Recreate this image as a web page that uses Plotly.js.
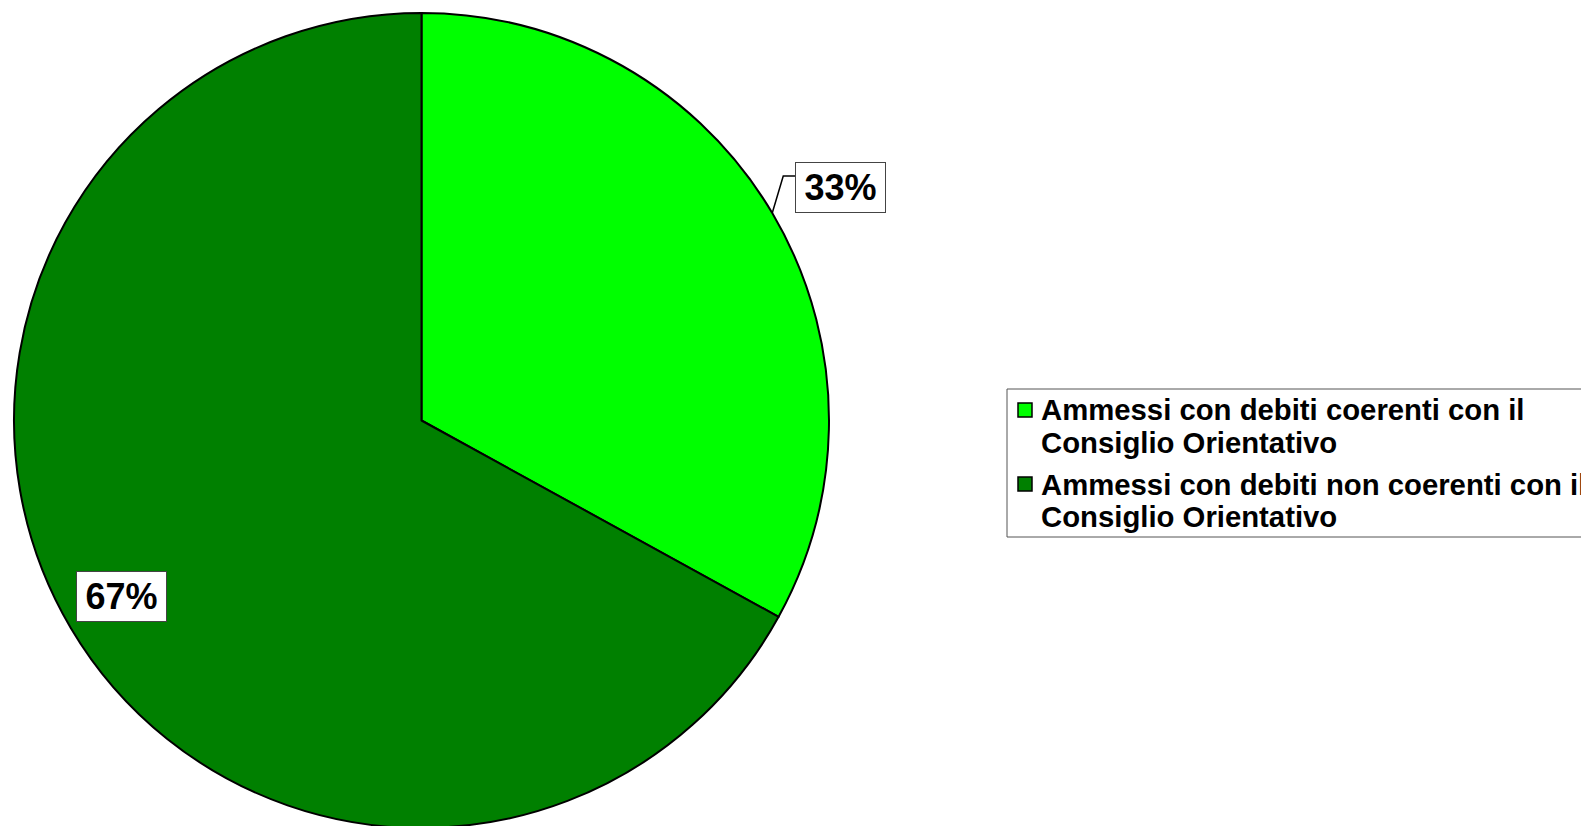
<!DOCTYPE html>
<html>
<head>
<meta charset="utf-8">
<script src="https://cdn.plot.ly/plotly-3.0.1.min.js"></script>
<style>
html,body{margin:0;padding:0;overflow:hidden;background:#fff;}
#chart{width:1581px;height:830px;}
</style>
</head>
<body>
<div id="chart"></div>
<script>
// ---- data ----
const labels = [
  "Ammessi con debiti coerenti con il<br>Consiglio Orientativo",
  "Ammessi con debiti non coerenti con il<br>Consiglio Orientativo"
];
const values = [33, 67];
const colors = ["#00FF00", "#008000"];

// ---- layout geometry (pixels) ----
const W = 1581, H = 830;
const cx = 421.5, cy = 420.5, R = 407.5;
const FONT = "Liberation Sans, Arial, Helvetica, sans-serif";

const px2x = p => p / W;
const py2y = p => 1 - p / H;

// mid-angles of slices (clockwise from 12 o'clock), computed from data
const total = values.reduce((a, b) => a + b, 0);
let cum = 0;
const mids = values.map(v => { const m = (cum + v / 2) / total * 2 * Math.PI; cum += v; return m; });
const pct = values.map(v => Math.round(v / total * 100) + "%");

const pt = (ang, r) => [cx + r * Math.sin(ang), cy - r * Math.cos(ang)];

// label 1 : outside with elbow leader
const E = pt(mids[0], R);
const elbow = [E[0] + 11, E[1] - 37];
const boxW = 91, boxH = 51;
const boxL = elbow[0] + 12, boxT = elbow[1] - 14;

// label 2 : inside
const L2 = pt(mids[1], 0.855 * R);

const trace = {
  type: "pie",
  labels: labels,
  values: values,
  sort: false,
  direction: "clockwise",
  rotation: 0,
  marker: { colors: colors, line: { color: "#000", width: 2 } },
  textinfo: "none",
  hoverinfo: "label+percent",
  showlegend: false,
  domain: { x: [(cx - R) / W, (cx + R) / W], y: [(H - cy - R) / H, (H - cy + R) / H] }
};

const annFont = { family: FONT, size: 36, color: "#000", weight: "bold" };
const shapes = [{
  type: "path", xref: "paper", yref: "paper",
  path: "M" + px2x(E[0]) + "," + py2y(E[1]) + " L" + px2x(elbow[0]) + "," + py2y(elbow[1]) +
        " L" + px2x(boxL) + "," + py2y(elbow[1]),
  line: { color: "#000", width: 1.5 }
}];
const annotations = [
  {
    xref: "paper", yref: "paper", x: px2x(boxL + boxW / 2), y: py2y(boxT + boxH / 2),
    xanchor: "center", yanchor: "middle", showarrow: false, text: pct[0],
    font: annFont, bgcolor: "#fff", bordercolor: "#444", borderwidth: 1, borderpad: 1,
    width: boxW - 4, height: boxH - 4
  },
  {
    xref: "paper", yref: "paper", x: px2x(L2[0]), y: py2y(L2[1] - 1.5),
    xanchor: "center", yanchor: "middle", showarrow: false, text: pct[1],
    font: annFont, bgcolor: "#fff", bordercolor: "#444", borderwidth: 1, borderpad: 1,
    width: boxW - 4, height: boxH - 4
  }
];

// ---- legend (box, swatches, text lines) ----
const legL = 1007, legT = 389, legB = 537;
const textX = 1039, firstLine = 410, lineGap = 32.5, itemGap = 74;
shapes.push({
  type: "rect", xref: "paper", yref: "paper",
  x0: px2x(legL), x1: px2x(W + 20), y0: py2y(legB), y1: py2y(legT),
  line: { color: "#555", width: 1 }, fillcolor: "#fff", layer: "below"
});
labels.forEach((lab, i) => {
  const y0 = firstLine + i * itemGap;
  shapes.push({
    type: "rect", xref: "paper", yref: "paper",
    x0: px2x(1018), x1: px2x(1032), y0: py2y(y0 + 7), y1: py2y(y0 - 7),
    fillcolor: colors[i], line: { color: "#000", width: 1.5 }
  });
  lab.split("<br>").forEach((line, j) => {
    annotations.push({
      xref: "paper", yref: "paper", x: px2x(textX), y: py2y(y0 + j * lineGap),
      xanchor: "left", yanchor: "middle", showarrow: false, text: line,
      font: { family: FONT, size: 29.3, color: "#000", weight: "bold" }
    });
  });
});

const layout = {
  width: W, height: H,
  margin: { l: 0, r: 0, t: 0, b: 0, pad: 0, autoexpand: false },
  paper_bgcolor: "#fff",
  showlegend: false,
  shapes: shapes,
  annotations: annotations
};

Plotly.newPlot("chart", [trace], layout, { displayModeBar: false, staticPlot: true });
</script>
</body>
</html>
